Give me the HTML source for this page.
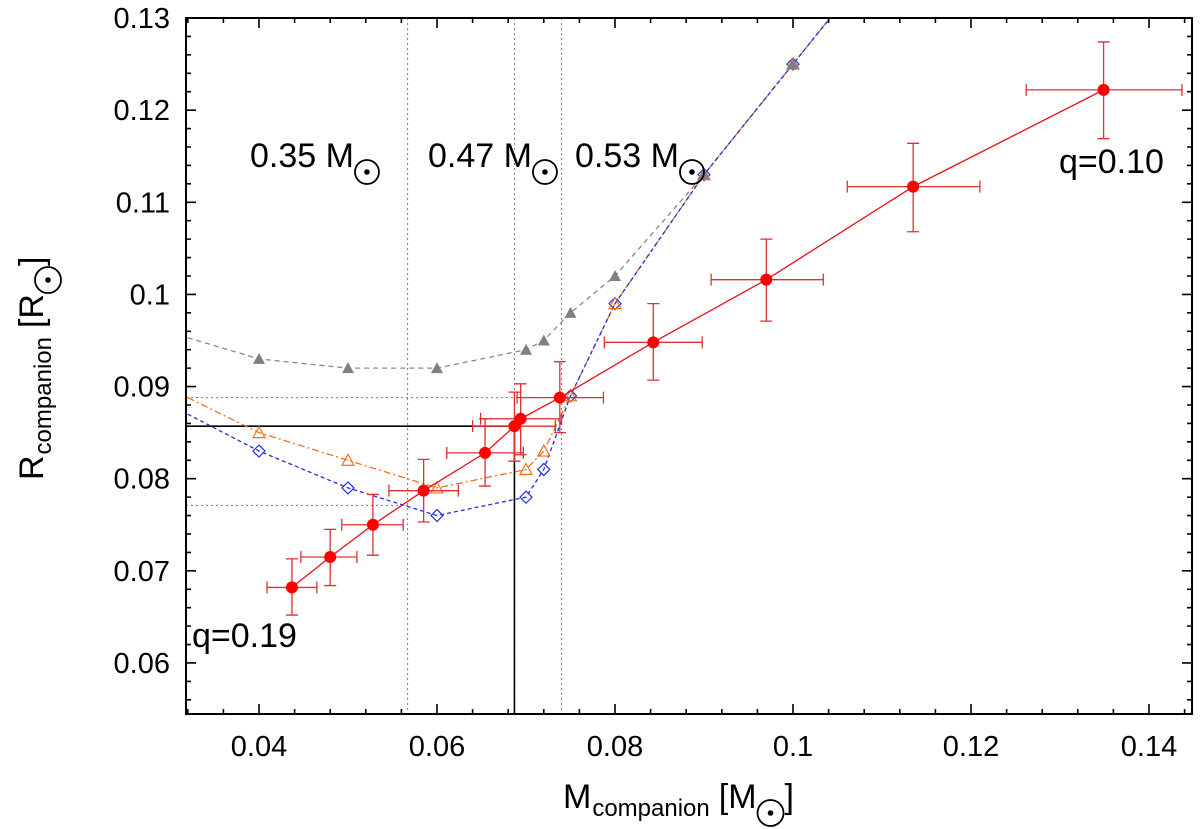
<!DOCTYPE html>
<html><head><meta charset="utf-8"><style>
html,body{margin:0;padding:0;background:#fff;}
svg{display:block;font-family:"Liberation Sans",sans-serif;}
</style></head><body>
<svg id="chart" width="1200" height="829" viewBox="0 0 1200 829">
<defs><clipPath id="clip"><rect x="186" y="18" width="1006" height="696"/></clipPath></defs>
<g id="grid"></g>
<g id="series" clip-path="url(#clip)"></g>
<g id="axes"></g>
<g id="labels"></g>
</svg>
<script>
// observed data (red)
const massObs = [0.0437,0.0480,0.0528,0.0585,0.0654,0.0687,0.0694,0.0738,0.0843,0.0970,0.1135,0.1349];
const radObs  = [0.0682,0.0715,0.0750,0.0787,0.0828,0.0857,0.0865,0.0888,0.0948,0.1016,0.1117,0.1222];
const massLo  = [0.0409,0.0447,0.0493,0.0546,0.0611,0.0640,0.0649,0.0690,0.0788,0.0908,0.1061,0.1262];
const massHi  = [0.0465,0.0510,0.0562,0.0624,0.0697,0.0733,0.0740,0.0787,0.0898,0.1034,0.1210,0.1437];
const radLo   = [0.0652,0.0684,0.0717,0.0753,0.0792,0.0819,0.0826,0.0850,0.0907,0.0971,0.1068,0.1169];
const radHi   = [0.0713,0.0745,0.0783,0.0821,0.0865,0.0894,0.0903,0.0927,0.0990,0.1060,0.1164,0.1274];
// models
const grayM = [0.032,0.04,0.05,0.06,0.07,0.072,0.075,0.08,0.09,0.1,0.11];
const grayR = [0.0953,0.093,0.092,0.092,0.094,0.095,0.098,0.102,0.113,0.125,0.137];
const orangeM = [0.032,0.04,0.05,0.06,0.07,0.072,0.075,0.08,0.09,0.1,0.11];
const orangeR = [0.0888,0.085,0.082,0.079,0.081,0.083,0.089,0.099,0.113,0.125,0.137];
const blueM = [0.032,0.04,0.05,0.06,0.07,0.072,0.075,0.08,0.09,0.1,0.11];
const blueR = [0.087,0.083,0.079,0.076,0.078,0.081,0.089,0.099,0.113,0.125,0.137];
const xTicks = [0.04,0.06,0.08,0.1,0.12,0.14];
const xTickLabels = ["0.04","0.06","0.08","0.1","0.12","0.14"];
const yTicks = [0.06,0.07,0.08,0.09,0.1,0.11,0.12,0.13];
const yTickLabels = ["0.06","0.07","0.08","0.09","0.1","0.11","0.12","0.13"];
const refMassLines = [0.0567,0.0687,0.0740];

const L=186,R=1192,T=18,B=714;
const X=v=>259+(v-0.04)*8900;
const Y=v=>18+(0.13-v)*9214;
const NS="http://www.w3.org/2000/svg";
function mk(parent,tag,attrs){const e=document.createElementNS(NS,tag);for(const k in attrs)e.setAttribute(k,attrs[k]);(typeof parent==='string'?document.getElementById(parent):parent).appendChild(e);return e;}

refMassLines.forEach((m,i)=>{
  const e=mk('grid','line',{x1:X(m),x2:X(m),y1:T,y2:B,stroke:'#777','stroke-width':1,'stroke-dasharray':'2,3'});
  
  
});
let e;
e=mk('grid','line',{x1:L,x2:X(0.0738),y1:Y(0.0888),y2:Y(0.0888),stroke:'#777','stroke-width':1,'stroke-dasharray':'2,3'});


e=mk('grid','line',{x1:L,x2:X(0.0567),y1:Y(0.0771),y2:Y(0.0771),stroke:'#777','stroke-width':1,'stroke-dasharray':'2,3'});


e=mk('grid','polyline',{points:`${L},${Y(0.0857)} ${X(0.0687)},${Y(0.0857)} ${X(0.0687)},${B}`,fill:'none',stroke:'#000','stroke-width':1.6});



function pts(ms,rs){return ms.map((m,i)=>X(m)+','+Y(rs[i])).join(' ');}
e=mk('series','polyline',{points:pts(grayM,grayR),fill:'none',stroke:'#888','stroke-width':1.3,'stroke-dasharray':'5,4'});


e=mk('series','polyline',{points:pts(orangeM,orangeR),fill:'none',stroke:'#f07020','stroke-width':1.3,'stroke-dasharray':'7,3,2,3'});


e=mk('series','polyline',{points:pts(blueM,blueR),fill:'none',stroke:'#2030e0','stroke-width':1.3,'stroke-dasharray':'4,3'});


blueM.forEach((m,i)=>{if(i==0||i==blueM.length-1)return;const x=X(m),y=Y(blueR[i]);
  const d=mk('series','polygon',{points:`${x},${y-6} ${x+6},${y} ${x},${y+6} ${x-6},${y}`,fill:'none',stroke:'#2030e0','stroke-width':1.2});
  
  });
orangeM.forEach((m,i)=>{if(i==0||i==orangeM.length-1)return;const x=X(m),y=Y(orangeR[i]);
  const d=mk('series','polygon',{points:`${x},${y-6} ${x+6},${y+5} ${x-6},${y+5}`,fill:'none',stroke:'#f07020','stroke-width':1.2});
  
  });
grayM.forEach((m,i)=>{if(i==0||i==grayM.length-1)return;const x=X(m),y=Y(grayR[i]);
  const d=mk('series','polygon',{points:`${x},${y-6} ${x+6},${y+5} ${x-6},${y+5}`,fill:'#808080'});
  
  });

e=mk('series','polyline',{points:pts(massObs,radObs),fill:'none',stroke:'#e8101a','stroke-width':1.3});


massObs.forEach((m,i)=>{
  const x=X(m),y=Y(radObs[i]),x1=X(massLo[i]),x2=X(massHi[i]),y1=Y(radHi[i]),y2=Y(radLo[i]);
  const g=mk('series','path',{d:`M${x1},${y}H${x2}M${x1},${y-6}V${y+6}M${x2},${y-6}V${y+6}M${x},${y1}V${y2}M${x-6},${y1}H${x+6}M${x-6},${y2}H${x+6}`,stroke:'#e03030','stroke-width':1.3,fill:'none'});
  
  
  const c=mk('series','circle',{cx:x,cy:y,r:6,fill:'#ff0000'});
  
  
});

e=mk('axes','rect',{x:L,y:T,width:R-L,height:B-T,fill:'none',stroke:'#000','stroke-width':2});


let tp='';
for(let k=0;k<=30;k++){const v=0.032+k*0.004;const x=X(v);if(x<L+1||x>R-1)continue;
  const major=Math.abs(v/0.02-Math.round(v/0.02))<1e-6;const len=major?10:5;
  tp+=`M${x},${B}V${B-len}M${x},${T}V${T+len}`;}
for(let k=0;k<=40;k++){const v=0.054+k*0.002;const y=Y(v);if(y<T+1||y>B-1)continue;
  const major=Math.abs(v/0.01-Math.round(v/0.01))<1e-6;const len=major?10:5;
  tp+=`M${L},${y}H${L+len}M${R},${y}H${R-len}`;}
e=mk('axes','path',{d:tp,stroke:'#000','stroke-width':1.6});


xTicks.forEach((v,i)=>{const t=mk('labels','text',{x:X(v),y:756,'font-size':29,'text-anchor':'middle'});t.textContent=xTickLabels[i];
  
  });
yTicks.forEach((v,i)=>{const t=mk('labels','text',{x:170,y:Y(v)+10,'font-size':29,'text-anchor':'end'});t.textContent=yTickLabels[i];
  
  });

function sun(parent,cx,cy,r){
  mk(parent,'circle',{cx:cx,cy:cy,r:r,fill:'none',stroke:'#000','stroke-width':1.8});
  mk(parent,'circle',{cx:cx,cy:cy,r:2.8,fill:'#000'});
}
function massLabel(x,y,txt,name){
  const g=mk('labels','g',{});
  
  
  const t=mk(g,'text',{x:x,y:y,'font-size':34});t.textContent=txt;
  const w=t.getComputedTextLength();
  sun(g,x+w+13,y+5,12);
}
massLabel(250,167,'0.35 M','label-0.35-msun');
massLabel(428,167,'0.47 M','label-0.47-msun');
massLabel(575,167,'0.53 M','label-0.53-msun');
let q=mk('labels','text',{x:1059,y:173,'font-size':34});q.textContent='q=0.10';


q=mk('labels','text',{x:192,y:647,'font-size':34});q.textContent='q=0.19';



function axisTitle(parent,x,y,main,sub,unit){
  const t=mk(parent,'text',{x:x,y:y,'font-size':34});t.textContent=main;
  let w=t.getComputedTextLength();
  const s=mk(parent,'text',{x:x+w+1,y:y+8,'font-size':24});s.textContent=sub;
  w+=1+s.getComputedTextLength();
  const u=mk(parent,'text',{x:x+w+9,y:y,'font-size':34});u.textContent='['+unit;
  w+=9+u.getComputedTextLength();
  sun(parent,x+w+14,y+5,13);
  const c=mk(parent,'text',{x:x+w+28,y:y,'font-size':34});c.textContent=']';
}
const xt=mk('labels','g',{});


axisTitle(xt,563,808,'M','companion','M');
const yt=mk('labels','g',{transform:'translate(43,480) rotate(-90)'});


axisTitle(yt,0,0,'R','companion','R');
</script>
</body></html>
